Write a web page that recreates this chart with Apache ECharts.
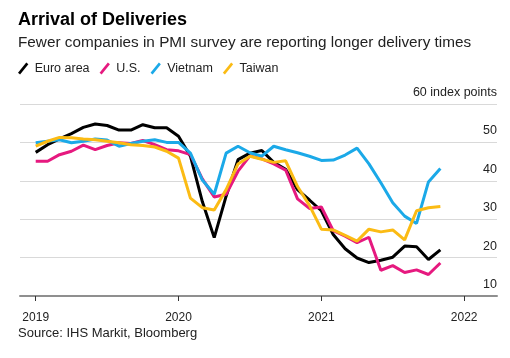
<!DOCTYPE html>
<html>
<head>
<meta charset="utf-8">
<script src="https://cdn.jsdelivr.net/npm/echarts@6/dist/echarts.min.js"></script>
<style>
  html, body { margin: 0; padding: 0; background: #fff; }
  #chart { width: 510px; height: 358px; }
</style>
</head>
<body>
<div id="chart"></div>
<script>
// Monthly index from Jan 2019 (0) to Nov 2021 (34)
var months = [];
for (var m = 0; m < 35; m++) months.push(m);

var euroArea = [47.4, 49.4, 50.9, 52.3, 53.9, 54.8, 54.4, 53.2, 53.2, 54.6, 53.8, 53.8,
                51.6, 46.4, 34.6, 25.2, 36.0, 45.5, 47.2, 47.9, 44.8, 43.0, 37.7, 35.0,
                32.2, 26.0, 22.3, 19.9, 18.7, 19.3, 20.1, 23.0, 22.8, 19.5, 22.0];
var us = [45.1, 45.1, 46.8, 47.7, 49.3, 48.1, 49.2, 49.9, 49.7, 50.5, 49.4, 48.1,
          47.8, 46.8, 40.5, 35.8, 36.5, 42.5, 46.5, 45.7, 44.4, 42.8, 35.3, 32.8,
          33.2, 27.0, 25.6, 23.9, 25.3, 16.7, 17.9, 16.1, 16.8, 15.6, 18.6];
var vietnam = [49.9, 50.3, 50.7, 49.9, 50.3, 50.9, 50.6, 49.0, 49.7, 50.3, 50.7, 50.0,
               50.0, 47.2, 40.2, 36.5, 47.2, 49.0, 47.3, 46.4, 49.0, 48.1, 47.3, 46.4,
               45.3, 45.4, 46.7, 48.5, 44.4, 39.5, 34.3, 30.8, 28.9, 39.7, 43.2];
var taiwan = [49.0, 50.3, 51.3, 51.2, 50.9, 50.7, 50.3, 49.9, 49.4, 49.2, 48.8, 47.7,
              45.9, 35.5, 33.0, 32.4, 37.7, 44.4, 46.4, 45.6, 44.8, 45.2, 38.5, 33.6,
              27.4, 27.2, 25.8, 24.3, 27.4, 26.7, 27.2, 24.6, 32.2, 33.0, 33.3];

var yearTickValues = [0, 12, 24, 36];
var yearLabels = ['2019', '2020', '2021', '2022'];
var seriesNames = ['Euro area', 'U.S.', 'Vietnam', 'Taiwan'];
var seriesColors = ['#000000', '#e6197f', '#1ba9e8', '#fbbb14'];
var seriesValues = [euroArea, us, vietnam, taiwan];

function pairs(vals) {
  return vals.map(function (v, i) { return [months[i], v]; });
}

var slashIcon = 'path://M0,10 L8,0 L10,1.6 L2,11.6 Z';
var FONT = '"Liberation Sans", Arial, Helvetica, sans-serif';

var chart = echarts.init(document.getElementById('chart'), null, { renderer: 'canvas' });
chart.setOption({
  animation: false,
  backgroundColor: '#ffffff',
  textStyle: { fontFamily: FONT },
  title: [
    {
      text: 'Arrival of Deliveries',
      left: 13, top: 6,
      textStyle: { fontFamily: FONT, fontSize: 18, fontWeight: 'bold', color: '#000' }
    },
    {
      text: 'Fewer companies in PMI survey are reporting longer delivery times',
      left: 13, top: 30,
      textStyle: { fontFamily: FONT, fontSize: 15.3, fontWeight: 'normal', color: '#222' }
    },
    {
      text: 'Source: IHS Markit, Bloomberg',
      left: 13, top: 322,
      textStyle: { fontFamily: FONT, fontSize: 13, fontWeight: 'normal', color: '#222' }
    }
  ],
  legend: {
    left: 13, top: 57,
    itemWidth: 11, itemHeight: 12,
    itemGap: 10,
    icon: slashIcon,
    textStyle: { fontFamily: FONT, fontSize: 12.5, color: '#222', padding: [0, 0, 0, 1] },
    data: seriesNames.map(function (n) { return { name: n }; })
  },
  grid: { left: 20, right: 13, top: 104, bottom: 62, containLabel: false },
  xAxis: {
    type: 'value',
    min: -1.32, max: 38.76,
    splitLine: { show: false },
    axisLine: { show: true, onZero: false, lineStyle: { color: '#8f8f8f', width: 2 } },
    axisTick: { show: true, customValues: yearTickValues, length: 5, lineStyle: { color: '#333', width: 1 } },
    axisLabel: {
      show: true, customValues: yearTickValues, margin: 16,
      fontFamily: FONT, fontSize: 12, color: '#222',
      formatter: function (v) { return yearLabels[yearTickValues.indexOf(v)]; }
    }
  },
  yAxis: {
    type: 'value',
    position: 'right',
    min: 10, max: 60, interval: 10,
    axisLine: { show: false },
    axisTick: { show: false },
    splitLine: { show: true, lineStyle: { color: '#d9d9d9', width: 1 } },
    axisLabel: {
      inside: true, margin: 0,
      verticalAlign: 'bottom',
      padding: [0, 0, 5, 0],
      fontFamily: FONT, fontSize: 12.5, color: '#222',
      formatter: function (v) { return v === 60 ? '60 index points' : String(v); }
    }
  },
  series: seriesNames.map(function (n, k) {
    return {
      name: n,
      type: 'line',
      data: pairs(seriesValues[k]),
      showSymbol: false,
      symbol: 'none',
      color: seriesColors[k],
      lineStyle: { width: 3, color: seriesColors[k] },
      z: 2 + k
    };
  })
});
</script>
</body>
</html>
